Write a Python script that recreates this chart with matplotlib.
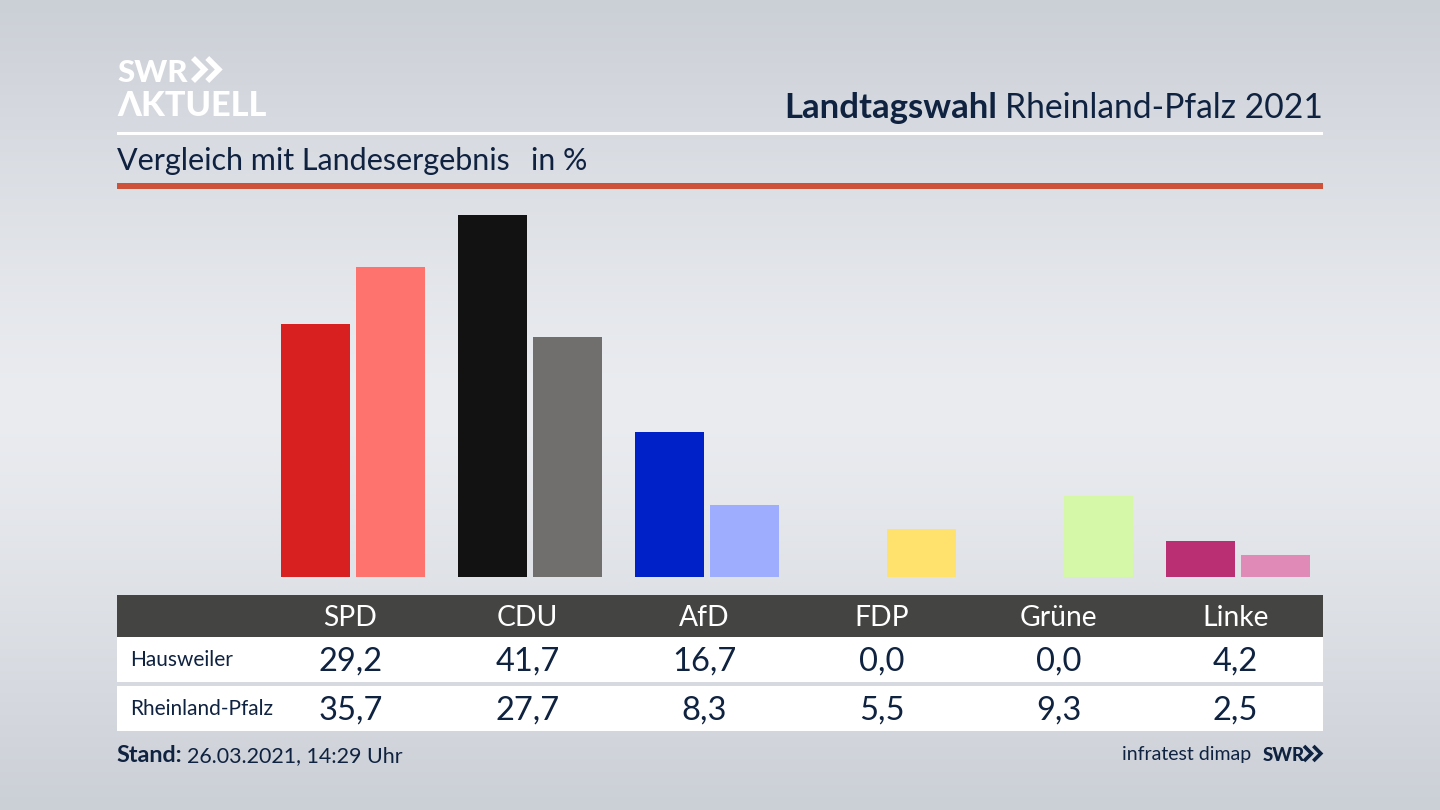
import numpy as np
from matplotlib import pyplot as plt
from matplotlib.patches import Rectangle

parties = ['SPD', 'CDU', 'AfD', 'FDP', 'Grüne', 'Linke']
row_names = ['Hausweiler', 'Rheinland-Pfalz']
hausweiler = [29.2, 41.7, 16.7, 0.0, 0.0, 4.2]
landesergebnis = [35.7, 27.7, 8.3, 5.5, 9.3, 2.5]
colors_local = ['#d7201f', '#121212', '#0021c8', '#ffe16e', '#d5f7a8', '#ba2e74']
colors_land = ['#ff736e', '#706f6d', '#9fadff', '#ffe16e', '#d5f7a8', '#e08ab8']

W, H = 1440, 810
navy = '#0f2240'
plt.rcParams['font.family'] = ['Lato', 'DejaVu Sans']


def fmt(v):
    return f'{v:.1f}'.replace('.', ',')


def chevrons(ax, x, y, h, color, lw):
    # the two arrows of the SWR logo
    for dx in (0, h * 0.62):
        ax.plot([x + dx, x + dx + h * 0.5, x + dx], [y, y + h / 2, y + h],
                color=color, lw=lw, solid_joinstyle='miter', solid_capstyle='butt')


fig = plt.figure(figsize=(W / 100, H / 100), dpi=100)

# overlay in pixel coordinates for background, rules and table
bg = fig.add_axes([0, 0, 1, 1])
bg.set_xlim(0, W)
bg.set_ylim(H, 0)
bg.axis('off')
grad = 1 - np.abs(np.linspace(-1, 1, 256)) ** 1.3
grad = grad[:, None]
top = np.array([203, 207, 214]) / 255
mid = np.array([234, 236, 240]) / 255
img = top[None, None, :] + grad[:, :, None] * (mid - top)[None, None, :]
bg.imshow(img, extent=[0, W, H, 0], aspect='auto', zorder=0)
bg.set_xlim(0, W)
bg.set_ylim(H, 0)

bg.add_patch(Rectangle((117, 132), 1206, 3, color='white', lw=0))
bg.add_patch(Rectangle((117, 183), 1206, 6, color='#cd5239', lw=0))
bg.add_patch(Rectangle((117, 595), 1206, 42, color='#444442', lw=0))
bg.add_patch(Rectangle((117, 637), 1206, 45, color='white', lw=0))
bg.add_patch(Rectangle((117, 686), 1206, 45, color='white', lw=0))

# logo
bg.text(117, 82, 'SWR', fontsize=22.5, fontweight='black', color='white', va='baseline', ha='left')
chevrons(bg, 193, 58, 23, 'white', 4)
bg.text(117, 116, 'ΛKTUELL', fontsize=24.7, fontweight='black', color='white', va='baseline', ha='left')

# headings
bg.text(1323, 118, 'Rheinland-Pfalz 2021', fontsize=24.2, color=navy, va='baseline', ha='right')
bg.text(997, 118, 'Landtagswahl', fontsize=25, fontweight='bold', color=navy, va='baseline', ha='right')
bg.text(117, 170, 'Vergleich mit Landesergebnis', fontsize=22, color=navy, va='baseline', ha='left')
bg.text(531, 170, 'in %', fontsize=21.8, color=navy, va='baseline', ha='left')

# bars
px_per_cat = 177.0
x_zero = 353.0
px_per_pct = 8.68
base = 577
chart = fig.add_axes([117 / W, 1 - base / H, 1206 / W, (base - 189) / H])
chart.patch.set_alpha(0)
chart.set_xlim((117 - x_zero) / px_per_cat, (1323 - x_zero) / px_per_cat)
chart.set_ylim(0, (base - 189) / px_per_pct)
chart.axis('off')
x = np.arange(len(parties))
offset = 37.5 / px_per_cat
width = 69.5 / px_per_cat
chart.bar(x - offset, hausweiler, width, color=colors_local)
chart.bar(x + offset, landesergebnis, width, color=colors_land)

# table
col_x = [350.5 + i * px_per_cat for i in range(len(parties))]
for i, p in enumerate(parties):
    bg.text(col_x[i], 626, p, fontsize=20.3, color='white', va='baseline', ha='center')
    bg.text(col_x[i], 671, fmt(hausweiler[i]), fontsize=23.5, color=navy, va='baseline', ha='center')
    bg.text(col_x[i], 720, fmt(landesergebnis[i]), fontsize=23.5, color=navy, va='baseline', ha='center')
bg.text(130, 666, row_names[0], fontsize=15, color=navy, va='baseline', ha='left')
bg.text(130, 715, row_names[1], fontsize=15, color=navy, va='baseline', ha='left')

# footer
bg.text(116, 762, 'Stand:', fontsize=16.8, fontweight='bold', color=navy, va='baseline', ha='left')
bg.text(187, 762, '26.03.2021, 14:29 Uhr', fontsize=15.4, color=navy, va='baseline', ha='left')
bg.text(1251, 760, 'infratest dimap', fontsize=14, color=navy, va='baseline', ha='right')
bg.text(1263, 761, 'SWR', fontsize=13.4, fontweight='black', color=navy, va='baseline', ha='left')
chevrons(bg, 1304, 746, 15, navy, 2.6)

fig.savefig('out.png', dpi=100)
